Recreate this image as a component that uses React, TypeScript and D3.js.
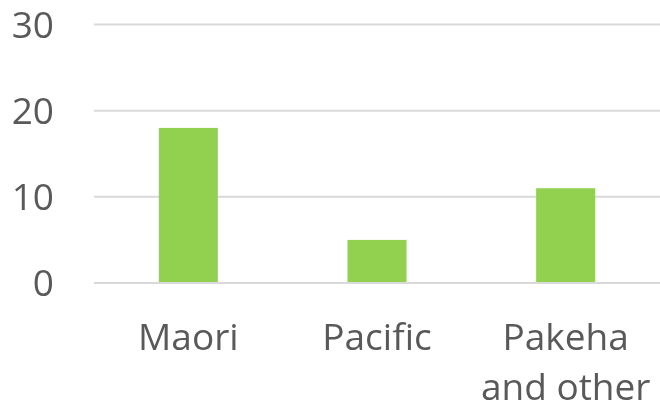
import { useEffect, useRef } from 'react';
import * as d3 from 'd3';

const categories = ['Maori', 'Pacific', 'Pakeha and other'];
const categoryLines = [['Maori'], ['Pacific'], ['Pakeha', 'and other']];
const values = [18, 5, 11];
const yTicks = [0, 10, 20, 30];

export default function App() {
  const svgRef = useRef<SVGSVGElement>(null);

  useEffect(() => {
    if (!svgRef.current) return;
    const svg = d3.select(svgRef.current);
    svg.selectAll('*').remove();

    const font = '"Open Sans", Lato, sans-serif';
    const textColor = '#595959';

    const x = d3
      .scaleBand()
      .domain(categories)
      .range([94, 660])
      .paddingInner(0.687)
      .paddingOuter(0.3435);
    const y = d3.scaleLinear().domain([0, 30]).range([283, 24.5]);

    // gridlines
    svg
      .append('g')
      .selectAll('line')
      .data(yTicks)
      .join('line')
      .attr('x1', 94)
      .attr('x2', 660)
      .attr('y1', (d) => y(d))
      .attr('y2', (d) => y(d))
      .attr('stroke', '#d9d9d9')
      .attr('stroke-width', 2);

    // y labels
    svg
      .append('g')
      .selectAll('text')
      .data(yTicks)
      .join('text')
      .attr('x', 54)
      .attr('y', (d) => y(d) + 13)
      .attr('text-anchor', 'end')
      .attr('font-family', font)
      .attr('font-size', 37)
      .attr('fill', textColor)
      .text((d) => d);

    // bars
    svg
      .append('g')
      .selectAll('rect')
      .data(values)
      .join('rect')
      .attr('x', (_, i) => x(categories[i])!)
      .attr('width', x.bandwidth())
      .attr('y', (d) => y(d))
      .attr('height', (d) => y(0) - y(d) - 1)
      .attr('fill', '#92d050');

    // category labels
    const labels = svg
      .append('g')
      .selectAll('text')
      .data(categories)
      .join('text')
      .attr('x', (d) => x(d)! + x.bandwidth() / 2)
      .attr('y', 350)
      .attr('text-anchor', 'middle')
      .attr('font-family', font)
      .attr('font-size', 37)
      .style('font-variant-ligatures', 'none')
      .attr('fill', textColor);

    labels
      .selectAll('tspan')
      .data((_, i) => categoryLines[i])
      .join('tspan')
      .attr('x', function () {
        return (this.parentNode as SVGTextElement).getAttribute('x');
      })
      .attr('dy', (_, j) => (j === 0 ? 0 : 50))
      .text((d) => d);
  }, []);

  return (
    <div style={{ position: 'fixed', top: 0, left: 0 }}>
      <svg ref={svgRef} width={660} height={407} viewBox="0 0 660 407" style={{ display: 'block' }} />
    </div>
  );
}
